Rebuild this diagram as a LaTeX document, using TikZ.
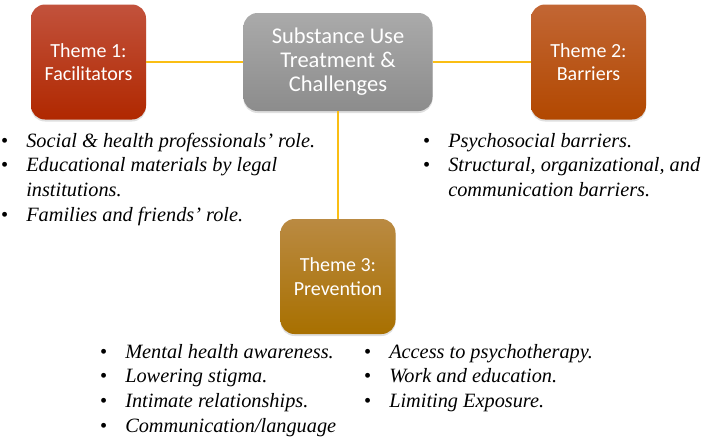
\documentclass[tikz,border=0pt]{standalone}
\usepackage{fontspec}
\setmainfont[Ligatures=TeX]{Liberation Serif}
\newfontfamily\itemfont[Ligatures=TeX]{Liberation Serif}
\newfontfamily\boxfont{Carlito}
\usetikzlibrary{shadows}

\definecolor{redtop}{RGB}{194,82,60}
\definecolor{redbot}{RGB}{176,40,0}
\definecolor{orgtop}{RGB}{194,102,52}
\definecolor{orgbot}{RGB}{178,72,0}
\definecolor{goldtop}{RGB}{186,138,66}
\definecolor{goldbot}{RGB}{168,112,0}
\definecolor{greytop}{RGB}{170,170,170}
\definecolor{greybot}{RGB}{140,140,140}

\tikzset{
  themebox/.style={rounded corners=14pt, minimum width=115pt, minimum height=115pt,
    text=white, align=center, font=\boxfont\fontsize{20}{23.5}\selectfont,
    drop shadow={shadow xshift=0pt, shadow yshift=-2pt, opacity=0.25}},
  linkline/.style={draw={rgb,255:red,250;green,190;blue,20}, line width=1.4pt},
  itemlist/.style={anchor=base west, inner sep=0pt,
    font=\itemfont\fontsize{20.3}{24.7}\selectfont},
}

\newcommand{\bl}{\textbullet}

\begin{document}
\begin{tikzpicture}[x=1pt, y=-1pt]

\useasboundingbox (0,0) rectangle (708,439);

\node [themebox, minimum width=189pt, minimum height=98pt,
       font=\boxfont\fontsize{22.5}{24}\selectfont,
       top color=greytop, bottom color=greybot] (core) at (338,62)
       {Substance Use\\Treatment \&\\Challenges};
\node [themebox, top color=redtop, bottom color=redbot] (t1) at (88.5,62)
       {Theme 1:\\Facilitators};
\node [themebox, top color=orgtop, bottom color=orgbot] (t2) at (588.5,62)
       {Theme 2:\\Barriers};
\node [themebox, top color=goldtop, bottom color=goldbot] (t3) at (338,276.5)
       {Theme 3:\\Prevention};

\draw [linkline] (t1) -- (core);
\draw [linkline] (core) -- (t2);
\draw [linkline] (core) -- (t3);

% facilitators
\node [itemlist] (f1) at (1,147) {\begin{tabular}[t]{@{}l@{\hspace{18pt}}l@{}}
  \bl & \textit{Social \& health professionals' role.}\\
  \bl & \textit{Educational materials by legal}\\
      & \textit{institutions.}\\
  \bl & \textit{Families and friends' role.}
\end{tabular}};

% barriers
\node [itemlist] (b1) at (423,147) {\begin{tabular}[t]{@{}l@{\hspace{18pt}}l@{}}
  \bl & \textit{Psychosocial barriers.}\\
  \bl & \textit{Structural, organizational, and}\\
      & \textit{communication barriers.}
\end{tabular}};

% prevention
\node [itemlist] (p1) at (100,358) {\begin{tabular}[t]{@{}l@{\hspace{18pt}}l@{}}
  \bl & \textit{Mental health awareness.}\\
  \bl & \textit{Lowering stigma.}\\
  \bl & \textit{Intimate relationships.}\\
  \bl & \textit{Communication/language}
\end{tabular}};
\node [itemlist] (p2) at (364,358) {\begin{tabular}[t]{@{}l@{\hspace{18pt}}l@{}}
  \bl & \textit{Access to psychotherapy.}\\
  \bl & \textit{Work and education.}\\
  \bl & \textit{Limiting Exposure.}
\end{tabular}};

\end{tikzpicture}
\end{document}
